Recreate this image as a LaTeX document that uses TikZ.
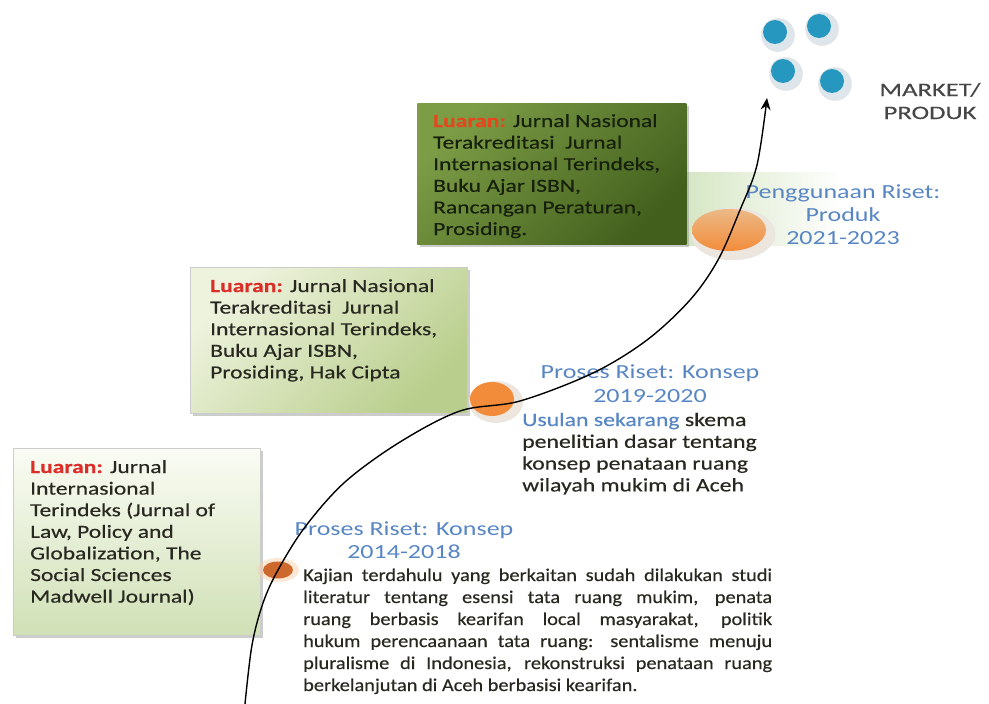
\documentclass[tikz,border=0pt]{standalone}
\usepackage{fontspec}
\setmainfont{Carlito}
\newfontfamily\bfnt[FakeStretch=1.27,FakeBold=0.4]{Carlito}
\newfontfamily\pfnt[FakeStretch=1.13,FakeBold=0.4]{Carlito}
\newfontfamily\ufnt[FakeStretch=1.25,FakeBold=0.4]{Carlito}
\newfontfamily\hfnt[FakeStretch=1.3]{Carlito}
\newfontfamily\mfnt[FakeStretch=1.4,FakeBold=0.3]{Carlito}
\usetikzlibrary{shadows,arrows.meta,shapes.geometric}
\definecolor{blu}{RGB}{88,134,196}
\definecolor{lred}{RGB}{220,45,40}
\definecolor{ored}{RGB}{230,70,30}
\definecolor{txt}{RGB}{40,40,32}
\definecolor{dtxt}{RGB}{22,32,12}
\definecolor{orng}{RGB}{242,140,58}
\definecolor{dorng}{RGB}{205,105,45}
\definecolor{tan}{RGB}{236,185,135}
\definecolor{rim}{RGB}{236,230,222}
\definecolor{dot}{RGB}{38,152,192}
\definecolor{dotrim}{RGB}{222,230,235}
\definecolor{mkt}{RGB}{70,70,70}
\tikzset{
  boxbase/.style={draw=gray!40, line width=0.6pt, anchor=north west, inner sep=0pt,
    drop shadow={opacity=0.4, shadow xshift=3pt, shadow yshift=-3pt}},
  boxone/.style={boxbase, top color={rgb,255:red,250;green,252;blue,244}, bottom color={rgb,255:red,208;green,224;blue,182}},
  boxtwo/.style={boxbase, top color={rgb,255:red,238;green,243;blue,222}, bottom color={rgb,255:red,185;green,206;blue,140}, shading angle=45},
  boxthree/.style={boxbase, draw=none, top color={rgb,255:red,124;green,156;blue,70}, bottom color={rgb,255:red,66;green,96;blue,28}, shading angle=45},
  btext/.style={anchor=base west, inner sep=0pt, text=txt, font={\bfnt\fontsize{18.5}{21.6}\selectfont}},
  ptext/.style={anchor=base west, inner sep=0pt, text=txt, font={\pfnt\fontsize{18}{22}\selectfont}},
  utext/.style={anchor=base west, inner sep=0pt, text=txt, font={\ufnt\fontsize{19}{21.8}\selectfont}},
  ctext/.style={anchor=base, inner sep=0pt, text=blu, font={\hfnt\fontsize{20}{23}\selectfont}},
  mtext/.style={anchor=base, inner sep=0pt, text=mkt, font={\mfnt\fontsize{19}{23}\selectfont}},
  bluedot/.style={circle, fill=dot, minimum size=24pt, inner sep=0pt},
  dotrimst/.style={circle, fill=dotrim, draw=gray!25, minimum size=33pt, inner sep=0pt},
}
\begin{document}
\begin{tikzpicture}[x=1pt,y=-1pt]
\useasboundingbox (0,0) rectangle (989,704);
% pale green strip behind Penggunaan
\shade[left color={rgb,255:red,214;green,230;blue,196}, right color=white] (685,172) rectangle (842,245);
% boxes
\node[boxone, minimum width=247pt, minimum height=187pt] (b1) at (13,448) {};
\node[boxtwo, minimum width=277pt, minimum height=146pt] (b2) at (190,267) {};
\node[boxthree, minimum width=269pt, minimum height=141pt] (b3) at (417,103) {};
% box texts
\node[btext] (t1) at (30,473) {\parbox[t]{230pt}{\raggedright
\textcolor{lred}{\bfseries Luaran:} Jurnal\\
Internasional\\
Terindeks (Jurnal of\\
Law, Policy and\\
Globalization, The\\
Social Sciences\\
Madwell Journal)}};
\node[btext] (t2) at (210,292) {\parbox[t]{255pt}{\raggedright
\textcolor{lred}{\bfseries Luaran:} Jurnal Nasional\\
Terakreditasi\ \ Jurnal\\
Internasional Terindeks,\\
Buku Ajar ISBN,\\
Prosiding, Hak Cipta}};
\node[btext, text=dtxt] (t3) at (433,127) {\parbox[t]{250pt}{\raggedright
\textcolor{ored}{\bfseries Luaran:} Jurnal Nasional\\
Terakreditasi\ \ Jurnal\\
Internasional Terindeks,\\
Buku Ajar ISBN,\\
Rancangan Peraturan,\\
Prosiding.}};
% orange markers
\fill[orng!40, opacity=0.5] (278,570) ellipse [x radius=21, y radius=12];
\node[ellipse, fill=dorng, minimum width=30pt, minimum height=17pt, inner sep=0pt] (o1) at (278,570) {};
\fill[rim] (496,402) ellipse [x radius=27, y radius=21];
\node[ellipse, fill=orng, minimum width=44pt, minimum height=34pt, inner sep=0pt] (o2) at (492,399) {};
\fill[rim, draw=gray!20] (733,234) ellipse [x radius=42, y radius=26];
\node[ellipse, top color=tan, bottom color=orng, minimum width=74pt, minimum height=42pt, inner sep=0pt] (o3) at (729,230) {};
% blue dots
\node[dotrimst] (r1) at (778,35) {};
\node[bluedot] (d1) at (775,32) {};
\node[dotrimst] (r2) at (822,29) {};
\node[bluedot] (d2) at (819,26) {};
\node[dotrimst] (r3) at (786,74) {};
\node[bluedot] (d3) at (783,71) {};
\node[dotrimst] (r4) at (835,84) {};
\node[bluedot] (d4) at (832,81) {};
% market
\node[mtext] (m1) at (930,96) {MARKET/};
\node[mtext] (m2) at (930,119) {PRODUK};
% stage labels
\node[ctext] (p3a) at (843,198) {Penggunaan Riset:};
\node[ctext] (p3b) at (843,221) {Produk};
\node[ctext] (p3c) at (843,244) {2021-2023};
\node[ctext] (p2a) at (650,378) {Proses Riset: Konsep};
\node[ctext] (p2b) at (650,402) {2019-2020};
\node[utext] (u2) at (522,426) {\parbox[t]{245pt}{\raggedright
\textcolor{blu}{Usulan sekarang} skema\\
penelitian dasar tentang\\
konsep penataan ruang\\
wilayah mukim di Aceh}};
\node[ctext] (p1a) at (404,535) {Proses Riset: Konsep};
\node[ctext] (p1b) at (404,558) {2014-2018};
\node[ptext] (k1) at (303,581) {\parbox[t]{469pt}{%
\makebox[469pt][s]{Kajian terdahulu yang berkaitan sudah dilakukan studi}\\
\makebox[469pt][s]{literatur tentang esensi tata ruang mukim, penata}\\
\makebox[469pt][s]{ruang berbasis kearifan local masyarakat, politik}\\
\makebox[469pt][s]{hukum perencaanaan tata ruang: sentalisme menuju}\\
\makebox[469pt][s]{pluralisme di Indonesia, rekonstruksi penataan ruang}\\
berkelanjutan di Aceh berbasisi kearifan.}};
% curve
\coordinate (start) at (245,704);
\coordinate (tip) at (767,98);
\draw[line width=1.4pt, -{Stealth[length=12pt,width=10pt]}]
  plot[smooth, tension=0.55] coordinates {(245,704) (252,645) (263,603) (278,570) (305,527) (345,482) (400,442) (460,411) (520,401) (593,373) (647,340) (690,300) (718,260) (740,210) (757,165) (767,98)};
\end{tikzpicture}
\end{document}
